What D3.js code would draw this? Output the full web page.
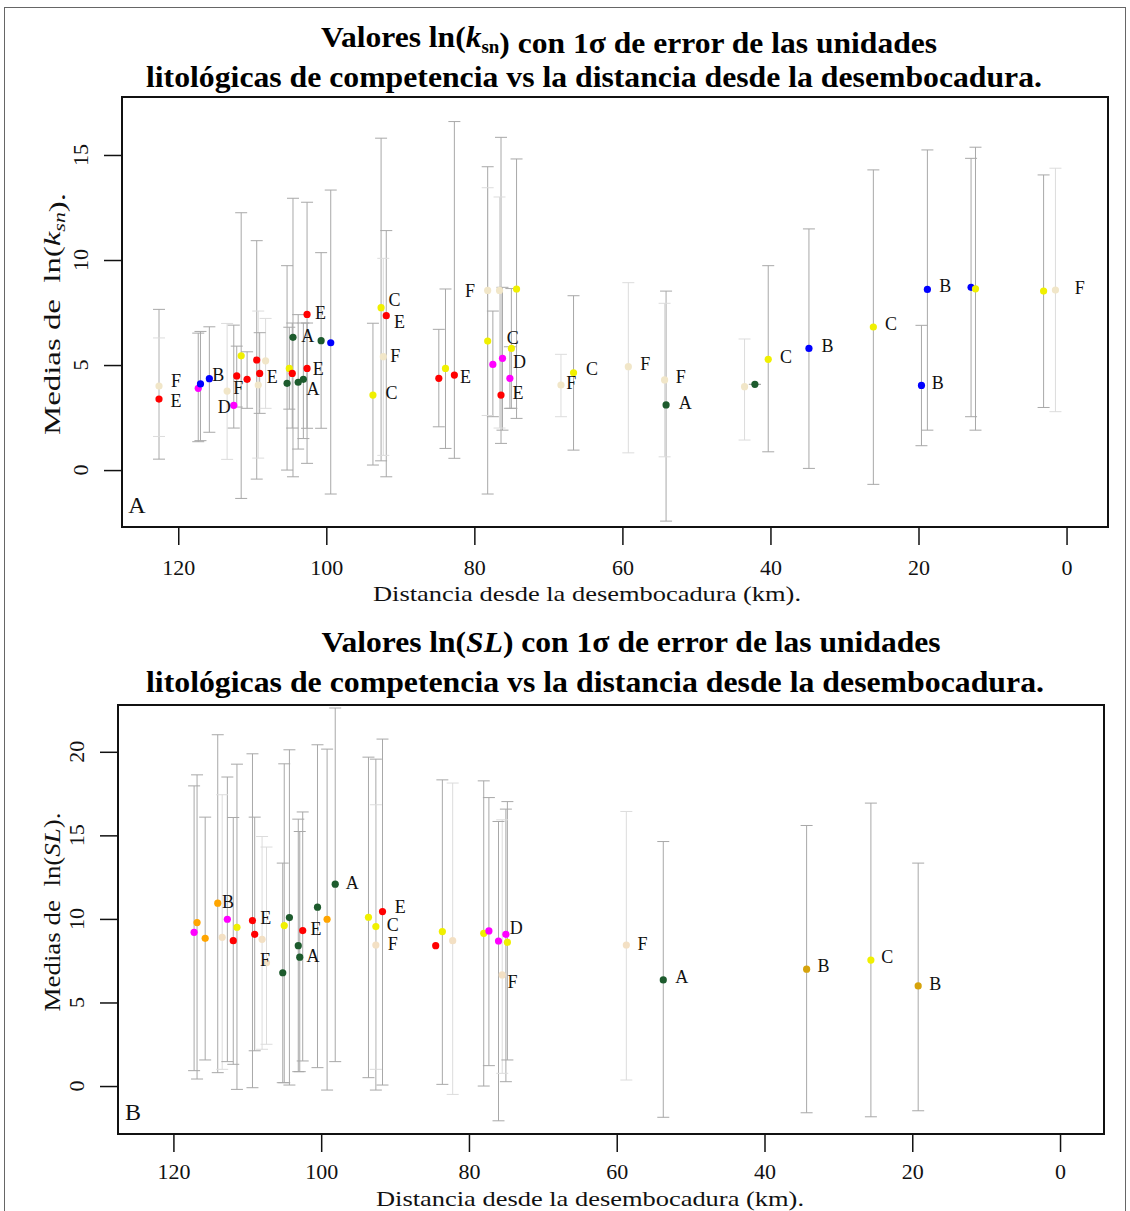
<!DOCTYPE html>
<html>
<head>
<meta charset="utf-8">
<script src="https://cdn.jsdelivr.net/npm/d3@7"></script>
<style>
  body { margin: 0; background: #fff; }
  svg, svg text { font-family: "Liberation Serif", "Times New Roman", Times, serif !important; white-space: pre; }
</style>
</head>
<body>
<div id="fig"></div>
<script>
// ---- datos panel A: ln(ksn) ----
var kmA   = [122.6,122.6,117.3,117.0,115.8,113.4,112.5,112.1,111.5,110.7,109.4,109.0,109.2,108.2,105.3,105.0,104.6,104.5,103.8,103.1,102.6,102.6,100.7,99.4,93.7,92.6,91.9,92.3,84.8,83.9,82.7,78.2,76.6,74.3,78.2,77.5,76.2,75.2,76.4,75.0,68.3,66.6,59.2,54.3,54.1,43.5,42.1,40.3,34.8,26.1,19.6,18.8,12.9,12.3,3.1,1.5];
var meanA = [3.38,4.00,3.89,4.10,4.35,3.76,3.08,4.48,5.44,4.32,5.24,4.60,4.05,5.20,4.13,4.84,4.60,6.32,4.18,4.32,7.41,4.84,6.16,6.06,3.57,7.73,7.35,5.40,4.37,4.84,4.52,8.55,8.55,8.62,6.14,5.03,5.32,4.37,3.57,5.79,4.05,4.63,4.92,4.29,3.10,3.97,4.08,5.27,5.79,6.81,4.03,8.60,8.70,8.63,8.52,8.57];
var loA   = [0.52,1.60,1.35,1.40,1.80,0.51,2.00,3.00,-1.35,2.94,-0.43,2.70,0.57,2.94,0.00,2.90,2.00,-0.32,1.00,1.50,0.32,1.99,1.99,-1.14,0.24,0.44,-0.32,0.70,2.06,1.03,0.56,2.60,2.00,2.46,-1.14,2.54,1.90,2.94,1.27,2.94,2.54,0.95,0.82,0.63,-2.43,1.43,4.08,0.87,0.08,-0.68,1.16,1.90,2.54,1.90,2.98,2.78];
var hiA   = [7.65,6.29,6.52,6.60,6.82,6.98,6.90,5.90,12.25,5.63,10.92,6.54,7.57,7.22,9.73,6.80,7.00,12.94,7.40,7.00,12.75,7.00,10.35,13.33,6.99,15.80,11.40,10.08,6.70,8.62,16.59,13.44,13.00,14.81,14.44,7.57,8.70,5.87,15.84,8.64,5.51,8.30,8.92,7.94,8.52,6.24,4.08,9.73,11.48,14.29,6.89,15.24,14.84,15.37,14.05,14.37];
var unitA = ["E","F","D","B","B","F","D","E","C","E","E","E","F","F","A","C","E","A","A","A","E","E","A","B","C","C","E","F","E","C","E","F","F","C","C","D","D","D","E","C","F","C","F","F","A","F","A","C","B","C","B","B","B","C","C","F"];

var labKmA  = [120.3,120.3,114.6,111.9,113.8,107.3,102.5,100.8,101.1,101.8,90.8,90.1,90.7,91.2,80.6,81.2,74.8,73.9,74.1,66.9,64.1,56.9,52.1,51.5,37.9,32.3,23.7,16.4,17.4,-1.8];
var labValA = [4.24,3.29,4.52,3.89,2.98,4.41,6.38,7.46,4.82,3.88,8.10,7.06,5.44,3.68,8.52,4.44,6.27,5.16,3.65,4.13,4.79,5.05,4.41,3.17,5.40,5.90,6.94,8.76,4.16,8.68];
var labTxtA = ["F","E","B","F","D","E","A","E","E","A","C","E","F","C","F","E","C","D","E","F","C","F","F","A","C","B","C","B","B","F"];

// ---- datos panel B: ln(SL) ----
var kmB   = [117.2,116.8,115.7,114.0,113.4,112.7,111.9,111.4,109.3,109.0,108.0,107.4,105.2,105.0,104.3,103.1,102.9,102.5,100.5,99.2,98.1,93.6,92.6,91.7,92.6,84.5,83.6,82.2,78.0,77.3,76.0,75.0,74.8,75.5,58.7,53.7,34.3,25.6,19.2];
var meanB = [9.20,9.78,8.84,10.94,8.90,9.98,8.70,9.50,9.90,9.08,8.78,7.37,6.78,9.60,10.08,8.40,7.71,9.30,10.70,9.98,12.08,10.10,9.54,10.44,8.44,8.40,9.24,8.70,9.14,9.28,8.68,9.08,8.60,6.65,8.44,6.35,6.99,7.54,5.99];
var loB   = [0.92,0.42,1.56,0.80,1.00,1.46,1.30,-0.20,-0.10,2.11,2.20,2.50,0.20,0.20,0.06,0.86,0.86,1.50,1.10,-0.24,1.46,0.50,-0.24,0.06,1.00,null,0.10,-0.50,0.00,1.22,-2.08,0.26,1.56,0.76,0.36,-1.87,-1.60,-1.84,-1.48];
var hiB   = [17.96,18.62,16.09,21.02,17.43,18.49,16.07,19.26,19.88,16.09,14.93,14.30,13.34,19.28,20.12,15.97,15.23,16.40,20.42,20.16,22.62,19.68,19.56,20.76,16.83,null,18.32,18.13,18.26,17.26,15.83,16.57,17.02,15.93,16.43,14.63,15.59,16.93,13.34];
var unitB = ["D","B","B","B","F","D","E","C","E","E","F","F","A","C","A","A","A","E","A","B","A","C","C","E","F","E","C","F","C","D","D","D","C","F","F","A","Bs","C","Bs"];

var labKmB  = [112.6,107.5,107.6,100.7,101.1,95.8,89.3,90.3,90.3,73.6,74.1,56.5,51.2,32.0,23.4,16.9];
var labValB = [11.04,10.04,7.54,9.38,7.78,12.17,10.74,9.62,8.50,9.44,6.25,8.50,6.51,7.20,7.74,6.09];
var labTxtB = ["B","E","F","E","A","A","E","C","F","D","F","F","A","B","C","B"];

var xTicks  = [120, 100, 80, 60, 40, 20, 0];
var yTicksA = [0, 5, 10, 15];
var yTicksB = [0, 5, 10, 15, 20];

var colA = {A:"#1d5b2d", B:"#0000ff", C:"#f0f000", D:"#ff00ff", E:"#ff0000", F:"#f1e6c8"};
var colB = {A:"#1d5b2d", B:"#ffa500", Bs:"#d6a30c", C:"#f0f000", D:"#ff00ff", E:"#ff0000", F:"#f3e0c4"};

var FONT = "'Liberation Serif', 'Times New Roman', Times, serif";
var W = 1130, H = 1211;
var svg = d3.select("#fig").append("svg").attr("width", W).attr("height", H)
  .attr("font-family", FONT);

// marco exterior
svg.append("rect").attr("x", 4.5).attr("y", 7.5).attr("width", 1121).attr("height", 1215)
  .attr("fill", "none").attr("stroke", "#666").attr("stroke-width", 1);

function title(y1, y2, cx1, w1, cx2, w2, mid) {
  var t1 = svg.append("text").attr("x", cx1).attr("y", y1).attr("text-anchor", "middle")
    .attr("font-size", 30).attr("font-weight", "bold")
    .attr("textLength", w1).attr("lengthAdjust", "spacingAndGlyphs");
  t1.append("tspan").text("Valores ln(");
  mid(t1);
  t1.append("tspan").text(") con 1σ de error de las unidades");
  svg.append("text").attr("x", cx2).attr("y", y2).attr("text-anchor", "middle")
    .attr("font-size", 30).attr("font-weight", "bold")
    .attr("textLength", w2).attr("lengthAdjust", "spacingAndGlyphs")
    .text("litológicas de competencia vs la distancia desde la desembocadura.");
}

function drawPanel(o) {
  var x = d3.scaleLinear().domain(o.xDom).range([o.left, o.right]);
  var y = d3.scaleLinear().domain(o.yDom).range([o.bottom, o.top]);
  var g = svg.append("g");
  var n = o.km.length;
  var withBar = d3.range(n).filter(function(i) { return o.lo[i] != null; });
  var barCol = function(i) { return o.unit[i] === "F" ? "#dcdcdc" : "#a8a8a8"; };

  // barras de error 1 sigma
  g.selectAll(".eb").data(withBar).join("line")
    .attr("x1", i => x(o.km[i])).attr("x2", i => x(o.km[i]))
    .attr("y1", i => y(o.lo[i])).attr("y2", i => y(o.hi[i]))
    .attr("stroke", barCol).attr("stroke-width", 1);
  ["lo", "hi"].forEach(function(k) {
    g.selectAll(".cap" + k).data(withBar).join("line")
      .attr("x1", i => x(o.km[i]) - 6).attr("x2", i => x(o.km[i]) + 6)
      .attr("y1", i => y(o[k][i])).attr("y2", i => y(o[k][i]))
      .attr("stroke", barCol).attr("stroke-width", 1);
  });

  // medias
  g.selectAll(".pt").data(d3.range(n)).join("circle")
    .attr("cx", i => x(o.km[i])).attr("cy", i => y(o.mean[i])).attr("r", 3.6)
    .attr("fill", i => o.col[o.unit[i]]);

  // letras de unidad
  g.selectAll(".lab").data(o.labTxt).join("text")
    .attr("x", (d, i) => x(o.labKm[i])).attr("y", (d, i) => y(o.labVal[i]))
    .attr("text-anchor", "middle").attr("dominant-baseline", "central")
    .attr("font-size", 18).attr("fill", "#111").text(d => d);

  // caja
  g.append("rect").attr("x", o.left).attr("y", o.top)
    .attr("width", o.right - o.left).attr("height", o.bottom - o.top)
    .attr("fill", "none").attr("stroke", "#111").attr("stroke-width", 2);

  // eje x
  var ax = g.append("g").attr("transform", "translate(0," + o.bottom + ")")
    .call(d3.axisBottom(x).tickValues(xTicks).tickSize(18).tickPadding(o.xPad).tickFormat(d3.format("d")));
  ax.attr("font-family", FONT);
  ax.select(".domain").remove();
  ax.selectAll("line").attr("stroke", "#111").attr("stroke-width", 1.5);
  ax.selectAll("text").attr("font-size", 22).attr("fill", "#111");

  // eje y
  var ay = g.append("g").attr("transform", "translate(" + o.left + ",0)")
    .call(d3.axisLeft(y).tickValues(o.yTicks).tickSize(18).tickFormat(""));
  ay.select(".domain").remove();
  ay.selectAll("line").attr("stroke", "#111").attr("stroke-width", 1.5);
  g.selectAll(".yt").data(o.yTicks).join("text")
    .attr("transform", d => "translate(" + (o.left - 34) + "," + y(d) + ") rotate(-90)")
    .attr("text-anchor", "middle").attr("font-size", 22).attr("fill", "#111").text(d => d);

  // títulos de ejes
  g.append("text").attr("x", o.xtX).attr("y", o.xtY).attr("text-anchor", "middle")
    .attr("font-size", 22).attr("fill", "#111")
    .attr("textLength", 428).attr("lengthAdjust", "spacingAndGlyphs")
    .text("Distancia desde la desembocadura (km).");
  var yt = g.append("text").attr("transform", "translate(60," + o.ytY + ") rotate(-90)")
    .attr("text-anchor", "middle").attr("font-size", 24).attr("fill", "#111")
    .attr("textLength", o.ytW).attr("lengthAdjust", "spacingAndGlyphs");
  yt.append("tspan").text("Medias de  ln(");
  o.yMid(yt);
  yt.append("tspan").text(").");

  // letra del panel
  g.append("text").attr("x", o.left + 15).attr("y", o.bottom - 14).attr("text-anchor", "middle")
    .attr("font-size", 24).attr("fill", "#111").text(o.tag);
}

title(47, 87, 629, 616, 594, 896, function(t) {
  t.append("tspan").attr("font-style", "italic").text("k");
  t.append("tspan").attr("font-size", 18).attr("dy", 6).text("sn");
  t.append("tspan").attr("dy", -6).text("");
});
title(652, 692, 631, 619, 595, 898, function(t) {
  t.append("tspan").attr("font-style", "italic").text("SL");
});

drawPanel({
  km: kmA, mean: meanA, lo: loA, hi: hiA, unit: unitA, col: colA,
  labKm: labKmA, labVal: labValA, labTxt: labTxtA,
  xDom: [127.6, -5.6], yDom: [-2.71, 17.76], yTicks: yTicksA,
  left: 122, right: 1108, top: 97, bottom: 527, xPad: 14,
  xtX: 587, xtY: 601, ytY: 314, ytW: 242, tag: "A",
  yMid: function(t) {
    t.append("tspan").attr("font-style", "italic").text("k");
    t.append("tspan").attr("font-style", "italic").attr("font-size", 16).attr("dy", 5).text("sn");
    t.append("tspan").attr("dy", -5).text("");
  }
});

drawPanel({
  km: kmB, mean: meanB, lo: loB, hi: hiB, unit: unitB, col: colB,
  labKm: labKmB, labVal: labValB, labTxt: labTxtB,
  xDom: [127.5, -5.95], yDom: [-2.87, 22.8], yTicks: yTicksB,
  left: 118, right: 1104, top: 705, bottom: 1134, xPad: 11,
  xtX: 590, xtY: 1206, ytY: 912, ytW: 199, tag: "B",
  yMid: function(t) {
    t.append("tspan").attr("font-style", "italic").text("SL");
  }
});
</script>
</body>
</html>
